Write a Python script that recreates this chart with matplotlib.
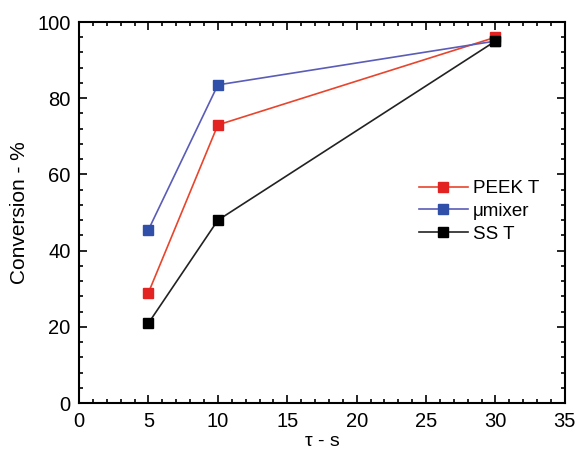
import matplotlib.pyplot as plt
from matplotlib.ticker import MultipleLocator

plt.rcParams['font.family'] = ['Liberation Sans', 'DejaVu Sans']

tau = [5, 10, 30]
peek_t = [29, 73, 96]
umixer = [45.5, 83.5, 95]
ss_t = [21, 48, 95]


def main():
    fig = plt.figure(figsize=(5.77, 4.49), dpi=100)
    ax = fig.add_axes([0.137, 0.102, 0.842, 0.849])

    ax.plot(tau, peek_t, '-s', color='#e8452c', mfc='#e32222', mec='#e32222',
            lw=1.2, ms=7, label='PEEK T')
    ax.plot(tau, umixer, '-s', color='#5a5cb8', mfc='#2f4fa8', mec='#2f4fa8',
            lw=1.2, ms=7, label='\u03bcmixer')
    ax.plot(tau, ss_t, '-s', color='#222222', mfc='black', mec='black',
            lw=1.2, ms=7, label='SS T')

    ax.set_xlim(0, 35)
    ax.set_ylim(0, 100)
    ax.xaxis.set_major_locator(MultipleLocator(5))
    ax.xaxis.set_minor_locator(MultipleLocator(1))
    ax.yaxis.set_major_locator(MultipleLocator(20))
    ax.yaxis.set_minor_locator(MultipleLocator(4))
    ax.tick_params(which='both', direction='in', top=True, right=True,
                   labelsize=14.5, width=1.2)
    ax.tick_params(which='major', length=6, pad=6)
    ax.tick_params(which='minor', length=3)
    for s in ax.spines.values():
        s.set_linewidth(1.5)

    ax.set_xlabel('\u03c4 - s', fontsize=14, labelpad=2)
    ax.set_ylabel('Conversion - %', fontsize=15, labelpad=6)

    ax.legend(loc='upper left', bbox_to_anchor=(0.68, 0.61), frameon=False,
              fontsize=13.5, handlelength=2.6, handletextpad=0.3,
              labelspacing=0.3, borderpad=0)

    fig.savefig('out.png', dpi=100)


if __name__ == "__main__":
    main()
